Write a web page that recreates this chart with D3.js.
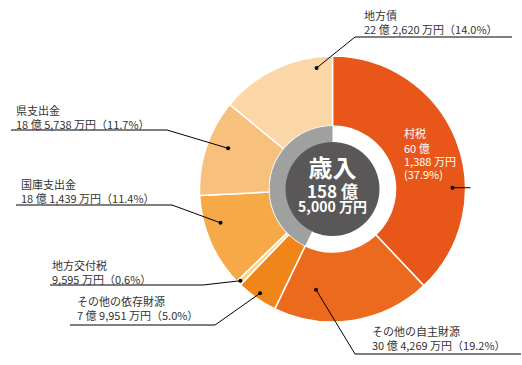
<!DOCTYPE html>
<html>
<head>
<meta charset="utf-8">
<script src="https://cdn.jsdelivr.net/npm/d3@7"></script>
<style>
body { margin: 0; background: #fff; }
svg text { font-family: "Noto Sans CJK JP", "Noto Sans", sans-serif; }
</style>
</head>
<body>
<div id="chart"></div>
<script>
// revenue items, clockwise from 12 o'clock
var names = ["村税", "その他の自主財源", "その他の依存財源", "地方交付税", "国庫支出金", "県支出金", "地方債"];
var amounts = [601388, 304269, 79951, 9595, 181439, 185738, 222620]; // 万円
var amountLabels = ["60 億 1,388 万円", "30 億 4,269 万円", "7 億 9,951 万円", "9,595 万円", "18 億 1,439 万円", "18 億 5,738 万円", "22 億 2,620 万円"];
var percents = ["37.9%", "19.2%", "5.0%", "0.6%", "11.4%", "11.7%", "14.0%"];
var groups = ["自主", "自主", "依存", "依存", "依存", "依存", "依存"];
var colors = ["#E8561A", "#EC6A1D", "#F0861A", "#FAD48C", "#F5AA47", "#F8C07D", "#FBD6A6"];
var centerLines = ["歳入", "158 億", "5,000 万円"];

var width = 522, height = 365;
var cx = 332.5, cy = 189;
var outerR = 133, innerR = 63, ringR = 47;

var svg = d3.select("#chart").append("svg")
    .attr("width", width)
    .attr("height", height);

var g = svg.append("g").attr("transform", "translate(" + cx + "," + cy + ")");

var data = names.map(function(n, i) {
    return {name: n, value: amounts[i], amount: amountLabels[i], pct: percents[i], group: groups[i], color: colors[i]};
});

var pie = d3.pie().sort(null).value(function(d) { return d.value; });
var arcs = pie(data);
var arc = d3.arc().innerRadius(innerR).outerRadius(outerR);

g.selectAll(".slice")
    .data(arcs)
    .enter()
    .append("path")
    .attr("d", arc)
    .style("fill", function(d) { return d.data.color; })
    .style("stroke", "#fff")
    .style("stroke-width", 1.5);

// inner ring: white for 自主財源, grey for 依存財源
var ringArc = d3.arc().innerRadius(ringR - 0.5).outerRadius(innerR);
var jishuEnd = d3.max(arcs.filter(function(d) { return d.data.group === "自主"; }), function(d) { return d.endAngle; });
g.append("path")
    .attr("d", ringArc({startAngle: 0, endAngle: jishuEnd}))
    .style("fill", "#fff");
g.append("path")
    .attr("d", ringArc({startAngle: jishuEnd, endAngle: 2 * Math.PI}))
    .style("fill", "#9FA0A0");

g.append("circle").attr("r", ringR).style("fill", "#595757");

// center title as one text block
var ct = g.append("text").attr("text-anchor", "middle")
    .style("fill", "#fff").style("font-weight", "bold");
var cy_offs = [-12, 9, 22.5];
var csizes = ["24px", "17px", "14px"];
centerLines.forEach(function(t, i) {
    ct.append("tspan").attr("x", 0).attr("y", cy_offs[i]).style("font-size", csizes[i]).text(t);
});

// label layout: dot given by angle (deg from top) and radius; text/underline in page coords
var layout = {
    "村税":         {ang: 89.4, r: 120, inside: true, tx: 404, ty: 138},
    "その他の自主財源": {ang: 189.3, r: 102, tx: 372, ty: 336, uy: 354, ux0: 355, ux1: 521, ex: 355},
    "その他の依存財源": {ang: 214.8, r: 127, tx: 77, ty: 306, uy: 325, ux0: 70, ux1: 215, ex: 215},
    "地方交付税":     {ang: 225.1, r: 130, tx: 52, ty: 270, uy: 285, ux0: 50, ux1: 203, ex: 203},
    "国庫支出金":     {ang: 253.2, r: 117, tx: 21, ty: 189, uy: 205, ux0: 16, ux1: 172, ex: 172},
    "県支出金":       {ang: 291.3, r: 112, tx: 16, ty: 115, uy: 130, ux0: 11, ux1: 167, ex: 167},
    "地方債":         {ang: 352.5, r: 122, tx: 364, ty: 20, uy: 37, ux0: 355, ux1: 512, ex: 355}
};

var labels = svg.append("g");

arcs.forEach(function(d) {
    var L = layout[d.data.name];
    var a = L.ang * Math.PI / 180;
    var px = cx + L.r * Math.sin(a), py = cy - L.r * Math.cos(a);
    var lines, offs, fill;

    if (L.inside) {
        labels.append("line")
            .attr("x1", px).attr("y1", py).attr("x2", cx + outerR + 5).attr("y2", py)
            .style("stroke", "#000").style("stroke-width", 1);
        var parts = d.data.amount.split(" 億 ");
        lines = [d.data.name, parts[0] + " 億", parts[1], "(" + d.data.pct + ")"];
        offs = [0, 15, 28, 41];
        fill = "#fff";
    } else {
        labels.append("polyline")
            .attr("points", [[px, py], [L.ex, L.uy], [L.ex === L.ux0 ? L.ux1 : L.ux0, L.uy]].map(function(p) { return p.join(","); }).join(" "))
            .style("fill", "none").style("stroke", "#000").style("stroke-width", 1);
        lines = [d.data.name, d.data.amount + "（" + d.data.pct + "）"];
        offs = [0, 13.5];
        fill = "#333";
    }
    var t = labels.append("text").style("fill", fill).style("font-size", "11px");
    lines.forEach(function(s, i) {
        t.append("tspan").attr("x", L.tx).attr("y", L.ty + offs[i]).text(s);
    });
    labels.append("circle").attr("cx", px).attr("cy", py).attr("r", 2).style("fill", "#000");
});
</script>
</body>
</html>
